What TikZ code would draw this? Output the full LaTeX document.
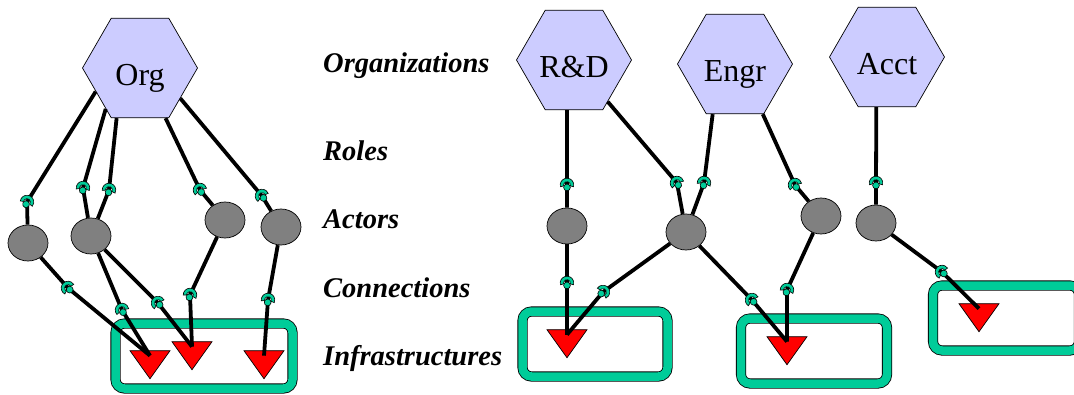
\documentclass[tikz,border=0pt]{standalone}
\usepackage{fontspec}
\setmainfont{Liberation Serif}
\usetikzlibrary{shapes.geometric,calc}
\definecolor{orgfill}{RGB}{204,204,255}
\definecolor{band}{RGB}{0,204,153}
\definecolor{actfill}{RGB}{128,128,128}
\tikzset{
	org/.style={regular polygon, regular polygon sides=6, minimum size=115pt, inner sep=0pt, fill=orgfill, draw=black, line width=0.7pt, font=\fontsize{32}{34}\selectfont, text height=34pt, text depth=0pt},
	actor/.style={ellipse, minimum width=40pt, minimum height=36pt, inner sep=0pt, fill=actfill, draw=black, line width=0.7pt},
	infra/.style={rectangle, rounded corners=9pt, minimum width=146pt, minimum height=65pt, inner sep=0pt, fill=white, draw=black, line width=0.8pt, double=band, double distance=8.5pt},
	port/.style={isosceles triangle, shape border rotate=270, isosceles triangle stretches, minimum width=40pt, minimum height=28pt, inner sep=0pt, fill=red, draw=black, line width=0.7pt},
	level/.style={anchor=base west, inner sep=0pt, font=\fontsize{28.5}{30}\selectfont\bfseries\itshape},
	wire/.style={line width=3.8pt, line join=round},
	sock/.pic={
		\filldraw[fill=band, draw=black, line width=0.6pt] (75:6.8) arc[start angle=75, end angle=285, radius=6.8] -- (285:3.4) arc[start angle=285, end angle=75, radius=3.4] -- cycle;
		\filldraw[fill=band, draw=black, line width=0.6pt] (2.4,0) circle[radius=3.4];
	}
}
\begin{document}
\begin{tikzpicture}[x=1pt, y=-1pt]
	\clip (0,0) rectangle (1074,394);
	% infrastructures
	\node[infra, minimum width=177pt] (b1) at (204,356) {};
	\node[infra, minimum width=145pt] (b2) at (595,344) {};
	\node[infra] (b3) at (814,351) {};
	\node[infra] (b4) at (1006,318) {};
	\node[port] (t1) at (150,361) {};
	\node[port] (t2) at (192,352) {};
	\node[port] (t3) at (264,361) {};
	\node[port] (t4) at (567,340) {};
	\node[port] (t5) at (787,347) {};
	\node[port] (t6) at (979,314) {};
	\foreach \t in {t1,t2,t3,t4,t5,t6}
		\coordinate (\t i) at ($(\t.north)!0.18!(\t.south)$);
	% organizations
	\node[org] (org) at (140,68) {Org};
	\node[org] (rd) at (574,60) {R\&D};
	\node[org] (eng) at (735,64) {Engr};
	\node[org] (acct) at (887,57) {Acct};
	% actors
	\node[actor] (a1) at (28,243) {};
	\node[actor] (a2) at (91,236) {};
	\node[actor] (a3) at (225,220) {};
	\node[actor] (a4) at (281,227) {};
	\node[actor] (a5) at (567,226) {};
	\node[actor] (a6) at (686,232) {};
	\node[actor] (a7) at (821,216) {};
	\node[actor] (a8) at (876,223) {};
	% levels
	\node[level] (lorg) at (323,72) {Organizations};
	\node[level] (lrol) at (323,160) {Roles};
	\node[level] (lact) at (323,228) {Actors};
	\node[level] (lcon) at (323,297) {Connections};
	\node[level] (linf) at (323,365) {Infrastructures};
	% roles and connections
	\coordinate (r1) at (27,202);
	\coordinate (r2) at (83,188);
	\coordinate (r3) at (109,190);
	\coordinate (r4) at (200,190);
	\coordinate (r5) at (262,196);
	\coordinate (r6) at (567,185);
	\coordinate (r7) at (677,183);
	\coordinate (r8) at (704,183);
	\coordinate (r9) at (795,185);
	\coordinate (r10) at (876,183);
	\coordinate (c1) at (68,288);
	\coordinate (c2) at (122,310);
	\coordinate (c3) at (158,303);
	\coordinate (c4) at (190,295);
	\coordinate (c5) at (268,300);
	\coordinate (c6) at (567,283);
	\coordinate (c7) at (603,292);
	\coordinate (c8) at (752,300);
	\coordinate (c9) at (787,290);
	\coordinate (c10) at (942,272);
	\def\links{org.208/r1/a1, org.230/r2/a2, org.245/r3/a2, org.297/r4/a3, org.323/r5/a4,
		rd.262/r6/a5, rd.309/r7/a6, eng.246/r8/a6, eng.299/r9/a7, acct.258/r10/a8,
		a1/c1/t1i, a2/c2/t1i, a2/c3/t2i, a3/c4/t2i, a4/c5/t3i,
		a5/c6/t4i, a6/c7/t4i, a6/c8/t5i, a7/c9/t5i, a8/c10/t6i}
	\foreach \s/\m/\e in \links
		\draw[wire] (\s) -- (\m) -- (\e);
	\foreach \s/\m/\e in \links
		\path let \p1=($(\e)-(\s)$), \n1={atan2(\y1,\x1)} in (\m) pic[rotate=\n1] {sock};
\end{tikzpicture}
\end{document}
